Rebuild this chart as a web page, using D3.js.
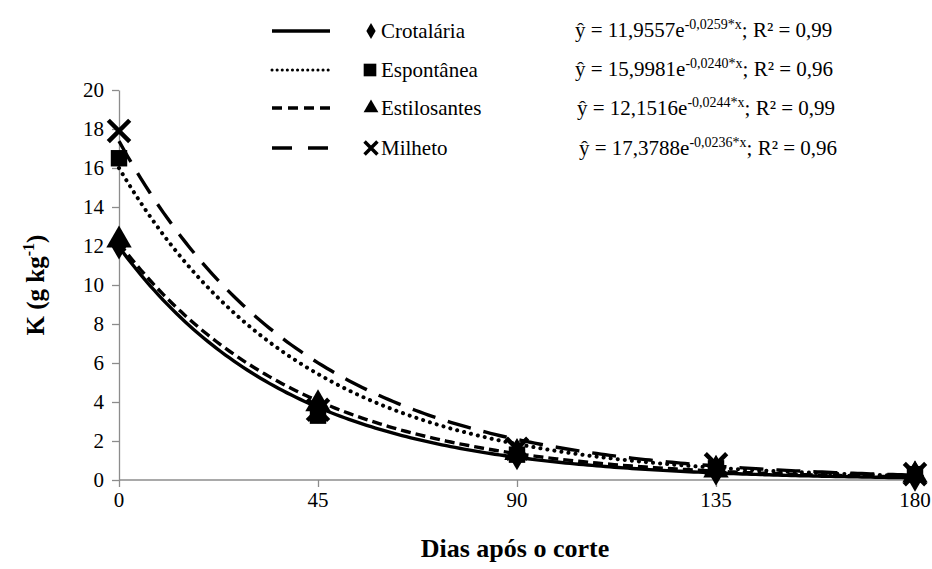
<!DOCTYPE html>
<html><head><meta charset="utf-8"><script src="https://cdn.jsdelivr.net/npm/d3@7"></script></head>
<body style="margin:0">
<svg id="s" width="932" height="569"></svg>
<script>
// Days after cutting and potassium content of each cover crop residue
const days = [0, 45, 90, 135, 180];
const seriesNames = ["Crotalária", "Espontânea", "Estilosantes", "Milheto"];
const crotalaria = [12.1, 3.7, 1.3, 0.5, 0.2];
const espontanea = [16.5, 3.3, 1.3, 0.6, 0.3];
const estilosantes = [12.3, 3.9, 1.4, 0.5, 0.25];
const milheto = [17.9, 3.6, 1.6, 0.8, 0.3];
// Fitted exponential models y = a * exp(b * x)
const fitA = [11.9557, 15.9981, 12.1516, 17.3788];
const fitB = [-0.0259, -0.0240, -0.0244, -0.0236];
const fitR2 = ["0,99", "0,96", "0,99", "0,96"];
const yTicks = [0, 2, 4, 6, 8, 10, 12, 14, 16, 18, 20];
const xTicks = [0, 45, 90, 135, 180];

const values = [crotalaria, espontanea, estilosantes, milheto];
const symbols = [d3.symbolDiamond, d3.symbolSquare, d3.symbolTriangle, d3.symbolX];
const dashes = [null, "0.1 7", "10 5", "24 13"];
const caps = ["butt", "round", "butt", "butt"];
const SERIF = "'Liberation Serif'";

const svg = d3.select("#s");
const x = d3.scaleLinear().domain([0, 180]).range([119, 915]);
const y = d3.scaleLinear().domain([0, 20]).range([480, 90]);
const axisColor = "#8c8c8c";

// Axes: lines only, labels drawn as plain text below
const xAxis = svg.append("g").attr("transform", "translate(0,480)")
  .call(d3.axisBottom(x).tickValues(xTicks).tickSize(7).tickSizeOuter(0).tickFormat(""));
const yAxis = svg.append("g").attr("transform", "translate(119,0)")
  .call(d3.axisLeft(y).tickValues(yTicks).tickSize(7).tickSizeOuter(0).tickFormat(""));
[xAxis, yAxis].forEach(g => {
  g.select(".domain").attr("stroke", axisColor).attr("stroke-width", 1.3);
  g.selectAll(".tick line").attr("stroke", axisColor).attr("stroke-width", 1.3);
  g.selectAll(".tick text").remove();
});
xAxis.select(".domain").attr("d", "M119,0H915");

svg.append("g").selectAll("text").data(xTicks).join("text")
  .attr("x", d => x(d)).attr("y", 507).attr("text-anchor", "middle").attr("font-size", 21)
  .style("font-family", SERIF).text(d => d);
svg.append("g").selectAll("text").data(yTicks).join("text")
  .attr("x", 104).attr("y", d => y(d) + 7).attr("text-anchor", "end").attr("font-size", 21)
  .style("font-family", SERIF).text(d => d);

// Fitted curves
const xs = d3.range(0, 180.5, 1);
const line = d3.line().x(d => x(d[0])).y(d => y(d[1]));
fitA.forEach((a, i) => {
  svg.append("path")
    .attr("d", line(xs.map(t => [t, a * Math.exp(fitB[i] * t)])))
    .attr("fill", "none").attr("stroke", "#000")
    .attr("stroke-width", i === 1 ? 4 : 3.4)
    .attr("stroke-dasharray", dashes[i])
    .attr("stroke-linecap", caps[i]);
});

// Observed points
const sizes = [280, 270, 280, 300];
values.forEach((vals, i) => {
  svg.append("g").selectAll("path").data(vals).join("path")
    .attr("transform", (d, j) => `translate(${x(days[j])},${y(d)})`)
    .attr("d", d3.symbol().type(symbols[i]).size(sizes[i]))
    .attr("fill", i === 3 ? "none" : "#000")
    .attr("stroke", "#000")
    .attr("stroke-width", i === 3 ? 4.5 : 0);
});

// Legend
const legY = [31, 70, 108, 148];
seriesNames.forEach((name, i) => {
  svg.append("line").attr("x1", 272).attr("x2", 330).attr("y1", legY[i]).attr("y2", legY[i])
    .attr("stroke", "#000").attr("stroke-width", i === 1 ? 3 : 3.6)
    .attr("stroke-dasharray", i === 0 ? null : (i === 1 ? "0.1 5" : (i === 2 ? "10 6" : "20 16")))
    .attr("stroke-linecap", caps[i]);
  svg.append("path")
    .attr("transform", `translate(${i === 1 ? 370 : 371},${legY[i]})`)
    .attr("d", d3.symbol().type(symbols[i]).size([75, 160, 95, 110][i]))
    .attr("fill", i === 3 ? "none" : "#000").attr("stroke", "#000")
    .attr("stroke-width", i === 3 ? 3.5 : 0);
});
svg.append("g").selectAll("text").data(seriesNames).join("text")
  .attr("x", 381).attr("y", (d, i) => legY[i] + 7).attr("font-size", 21)
  .style("font-family", SERIF).text(d => d);

// Equations
const eqX = [575, 575, 577, 579];
const eqY = [37, 76, 115, 155];
fitA.forEach((a, i) => {
  const t = svg.append("text").attr("x", eqX[i]).attr("y", eqY[i]).attr("font-size", 21)
    .style("font-family", SERIF);
  t.append("tspan").text("ŷ = " + a.toFixed(4).replace(".", ",") + "e");
  t.append("tspan").attr("font-size", 14).attr("dy", -8)
    .text(fitB[i].toFixed(4).replace(".", ",") + "*x");
  t.append("tspan").attr("dy", 8).text("; R² = " + fitR2[i]);
});

// Axis titles
svg.append("text").attr("x", 515).attr("y", 557).attr("text-anchor", "middle")
  .attr("font-size", 26).attr("font-weight", "bold")
  .style("font-family", SERIF).text("Dias após o corte");
const yt = svg.append("text").attr("transform", "translate(44,285) rotate(-90)")
  .attr("text-anchor", "middle").attr("font-size", 25).attr("font-weight", "bold")
  .style("font-family", SERIF);
yt.append("tspan").text("K  (g kg");
yt.append("tspan").attr("font-size", 16).attr("dy", -10).text("-1");
yt.append("tspan").attr("dy", 10).text(")");
</script>
</body>
</html>
